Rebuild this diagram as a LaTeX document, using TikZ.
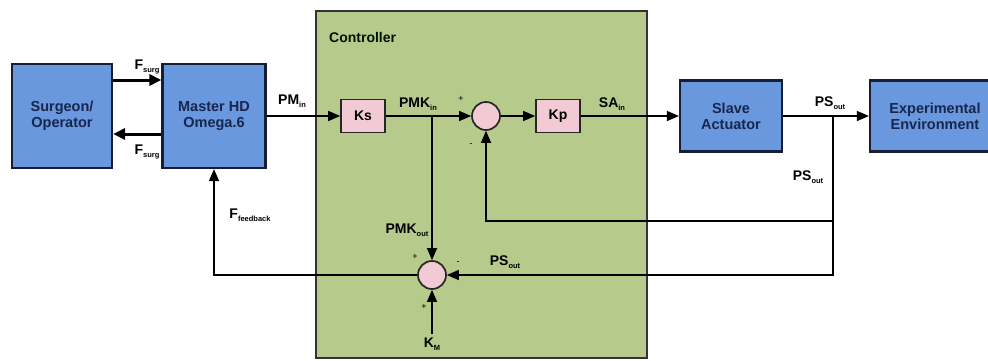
\documentclass[tikz,border=0pt]{standalone}
\usepackage{fontspec}
\setmainfont{Liberation Sans}
\usetikzlibrary{arrows.meta}
\definecolor{boxblue}{RGB}{106,152,222}
\definecolor{boxline}{RGB}{22,30,52}
\definecolor{boxtext}{RGB}{24,38,78}
\definecolor{ctlgreen}{RGB}{182,202,140}
\definecolor{gainpink}{RGB}{242,202,212}
\newcommand{\lowsub}[1]{\raisebox{-2.5pt}{\fontsize{7.5}{7.5}\selectfont #1}}

\begin{document}
\begin{tikzpicture}[x=1pt,y=-1pt,
    blk/.style={draw=boxline,line width=2.2pt,fill=boxblue,text=boxtext,align=center,
        font=\bfseries\fontsize{14.5}{16}\selectfont,inner sep=0pt},
    gain/.style={draw=black!85,line width=1.6pt,fill=gainpink,minimum width=44pt,
        minimum height=33pt,font=\bfseries\fontsize{14}{16}\selectfont},
    sum/.style={circle,draw=black!85,line width=1.7pt,fill=gainpink,minimum size=28pt,inner sep=0pt},
    lbl/.style={font=\bfseries\fontsize{14}{16}\selectfont,inner sep=0pt},
    sgn/.style={font=\fontsize{9}{9}\selectfont,inner sep=0pt},
    sig/.style={line width=1.4pt,-{Triangle[length=12pt,width=10pt]}},
    fat/.style={line width=3pt,-{Triangle[length=12pt,width=11pt]}}]
            \useasboundingbox (0,0) rectangle (988,360);
            \clip (0,0) rectangle (988,360);
            % controller frame
            \node[draw=black!80,line width=1.8pt,fill=ctlgreen,minimum width=331pt,
                minimum height=347pt] (C) at (481.5,184.5) {};
            \node[lbl,anchor=west,text=black!80!green!40!black] (Ct) at (329,37) {Controller};

            \node[blk,minimum width=100pt,minimum height=104pt] (S) at (62,116) {Surgeon/\\Operator};
            \node[blk,minimum width=103pt,minimum height=104pt] (M) at (214,116) {Master HD\\Omega.6};
            \node[gain] (Ks) at (363,116) {Ks};
            \node[sum] (A) at (486,116) {};
            \node[gain] (Kp) at (558,116) {Kp};
            \node[blk,minimum width=102pt,minimum height=71pt] (SA) at (731,116) {Slave\\Actuator};
            \node[blk,minimum width=130pt,minimum height=71pt] (EE) at (935,116) {Experimental\\Environment};
            \node[sum] (B) at (432,275) {};

            \coordinate (P) at (432,116);
            \coordinate (Q) at (833,116);
            \coordinate (R) at (833,221);
            \coordinate (KM) at (432,334);

            \draw[fat] ([yshift=36pt]S.east) -- ([yshift=36pt]M.west);
            \draw[fat] ([yshift=-18pt]M.west) -- ([yshift=-18pt]S.east);
            \path[sig]
            (M) edge (Ks)
            (Ks) edge (A)
            (A) edge (Kp)
            (Kp) edge (SA)
            (SA) edge (EE)
            (P) edge (B)
            (KM) edge (B);
            \draw[sig] (Q) |- (B);
            \draw[sig] (Q) -- (R) -| (A);
            \draw[sig] (B) -| (M);

            % signal labels
            \node[lbl] (f1) at (147,67) {F\lowsub{surg}};
            \node[lbl] (f2) at (147,152) {F\lowsub{surg}};
            \node[lbl] (pm) at (292,101) {PM\lowsub{in}};
            \node[lbl] (pk1) at (418,104) {PMK\lowsub{in}};
            \node[lbl] (sa) at (612,104) {SA\lowsub{in}};
            \node[lbl] (ps1) at (830,103) {PS\lowsub{out}};
            \node[lbl] (ps2) at (808,177) {PS\lowsub{out}};
            \node[lbl] (ps3) at (505,262) {PS\lowsub{out}};
            \node[lbl] (pk2) at (407,230) {PMK\lowsub{out}};
            \node[lbl] (fb) at (250,215) {F\lowsub{feedback}};
            \node[lbl] (km) at (432,344) {K\lowsub{M}};

            % signs
            \node[sgn] (a1) at (461,99) {+};
            \node[sgn] (a2) at (471,145) {-};
            \node[sgn] (b1) at (415,257) {+};
            \node[sgn] (b2) at (458,263) {-};
            \node[sgn] (b3) at (424,307) {+};
\end{tikzpicture}
\end{document}
